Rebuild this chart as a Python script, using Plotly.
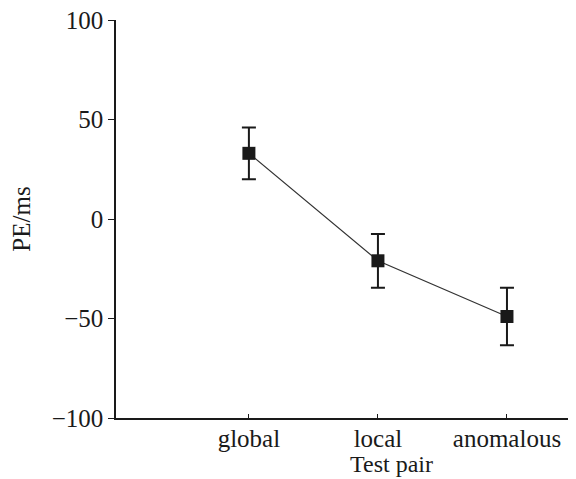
import plotly.graph_objects as go

categories = ["global", "local", "anomalous"]
pe_ms = [33, -21, -49]
err = [13, 13.5, 14.5]
y_ticks = [-100, -50, 0, 50, 100]

xpos = list(range(len(categories)))
ink = "#1a1a1a"
font = dict(family="Liberation Serif, Times New Roman, serif", size=25, color=ink)
title_font = dict(family="Liberation Serif, Times New Roman, serif", size=24, color=ink)

fig = go.Figure()
fig.add_trace(go.Scatter(
    x=xpos, y=pe_ms,
    mode="lines+markers",
    line=dict(color="#333333", width=1.2),
    marker=dict(symbol="square", size=13, color=ink),
    error_y=dict(type="data", array=err, visible=True, color=ink, thickness=2, width=7),
    showlegend=False,
))

fig.update_layout(
    width=568, height=471,
    margin=dict(l=108, r=0, t=12, b=61),
    paper_bgcolor="white", plot_bgcolor="white",
    font=font,
    xaxis=dict(
        range=[-1.03, 2.535],
        tickvals=xpos, ticktext=categories,
        showline=True, linecolor=ink, linewidth=1.5,
        ticks="inside", ticklen=4, tickcolor=ink,
        showgrid=False, zeroline=False,
        tickfont=font, ticklabeloverflow="allow",
        ticklabelstandoff=-3,
    ),
    yaxis=dict(
        range=[-100, 100],
        tickvals=y_ticks,
        showline=True, linecolor=ink, linewidth=1.5,
        ticks="outside", ticklen=6, tickcolor=ink,
        showgrid=False, zeroline=False,
        tickfont=font, ticklabeloverflow="allow",
        title=dict(text="PE/ms", font=font, standoff=18),
    ),
    annotations=[dict(
        text="Test pair", xref="paper", yref="paper",
        x=0.598, y=0, yshift=-61, xanchor="center", yanchor="bottom",
        showarrow=False, font=title_font,
    )],
)

fig.write_html("out.html")
